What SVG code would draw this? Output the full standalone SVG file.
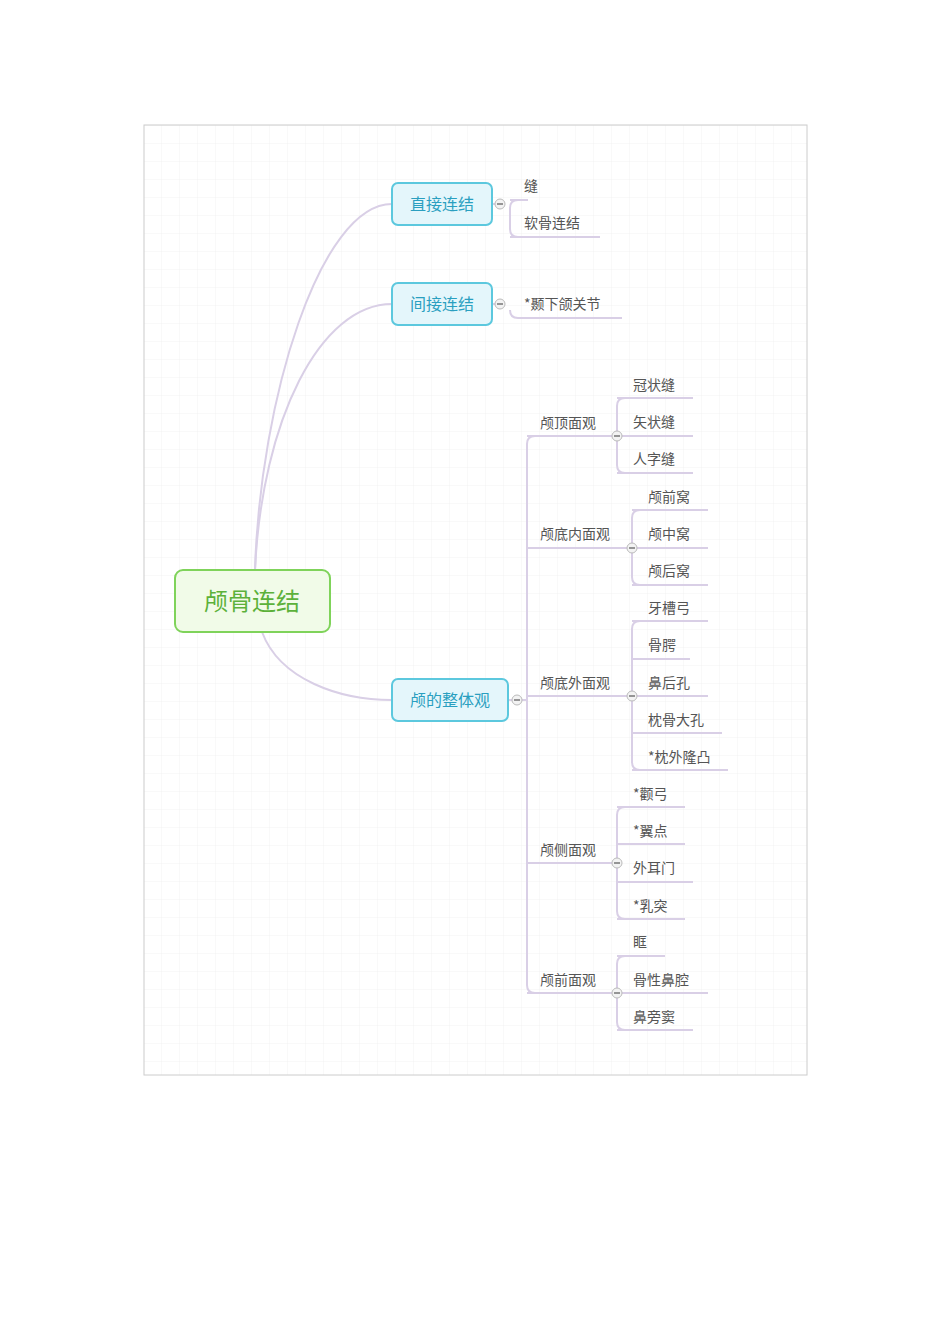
<svg xmlns="http://www.w3.org/2000/svg" width="950" height="1344" viewBox="0 0 950 1344">
<style>
.t{font-family:"Noto Sans CJK SC","Liberation Sans",sans-serif;font-size:14px;fill:#555}
.b{font-family:"Noto Sans CJK SC","Liberation Sans",sans-serif;font-size:16px;fill:#2a9fc0}
.l{fill:none;stroke:#d9cfe6;stroke-width:2}
.box{fill:#e4f6fb;stroke:#5cc8de;stroke-width:2}
.dot{fill:#f3f3f3;stroke:#bbb;stroke-width:1}
</style>
<defs>
<pattern id="g" width="18" height="18" patternUnits="userSpaceOnUse"><path d="M18 0V18H0" fill="none" stroke="#f2f2f2" stroke-width="1"/></pattern>
</defs>
<rect width="950" height="1344" fill="#fff"/>
<rect x="144" y="125" width="663" height="950" fill="url(#g)" stroke="#ccc"/>
<g id="connectors">
<path class="l" d="M255 570 C260 400 320 204 392 204"/>
<path class="l" d="M255 570 C262 420 320 304 392 304"/>
<path class="l" d="M262 632 C280 680 340 700 392 700"/>
<path class="l" d="M492 204 H500 M510 200 H528 M510 237 H600 M518 200 Q510 200 510 208 V229 Q510 237 518 237"/>
<path class="l" d="M492 304 H500 M510 310 Q510 318 518 318 H622"/>
<path class="l" d="M508 700 H517 M517 700 H527 M535 436 Q527 436 527 444 V985 Q527 993 535 993 M527 436 H617 M527 548 H632 M527 696 H632 M527 863 H617 M527 993 H617"/>
<path class="l" d="M625 398 Q617 398 617 406 V465 Q617 473 625 473 M617 398 H693 M617 436 H693 M617 473 H693"/>
<path class="l" d="M640 510 Q632 510 632 518 V577 Q632 585 640 585 M632 510 H708 M632 548 H708 M632 585 H708"/>
<path class="l" d="M640 621 Q632 621 632 629 V762 Q632 770 640 770 M632 621 H708 M632 659 H690 M632 696 H708 M632 733 H722 M632 770 H728"/>
<path class="l" d="M625 807 Q617 807 617 815 V911 Q617 919 625 919 M617 807 H685 M617 844 H685 M617 882 H693 M617 919 H685"/>
<path class="l" d="M625 956 Q617 956 617 964 V1022 Q617 1030 625 1030 M617 956 H665 M617 993 H708 M617 1030 H693"/>
</g>
<g id="root"><rect x="175" y="570" width="155" height="62" rx="8" fill="#f1fbe8" stroke="#7fd35a" stroke-width="2"/><text x="252" y="610" text-anchor="middle" font-family="Noto Sans CJK SC,sans-serif" font-size="24" fill="#5cb13a">颅骨连结</text></g>
<g id="n1"><rect class="box" x="392" y="183" width="100" height="42" rx="6"/><text class="b" x="442" y="210" text-anchor="middle">直接连结</text></g>
<g id="n2"><rect class="box" x="392" y="283" width="100" height="42" rx="6"/><text class="b" x="442" y="310" text-anchor="middle">间接连结</text></g>
<g id="n3"><rect class="box" x="392" y="679" width="116" height="42" rx="6"/><text class="b" x="450" y="706" text-anchor="middle">颅的整体观</text></g>
<g id="dots">
<circle class="dot" cx="500" cy="204" r="5"/><circle class="dot" cx="500" cy="304" r="5"/><circle class="dot" cx="517" cy="700" r="5"/>
<circle class="dot" cx="617" cy="436" r="5"/><circle class="dot" cx="632" cy="548" r="5"/><circle class="dot" cx="632" cy="696" r="5"/><circle class="dot" cx="617" cy="863" r="5"/><circle class="dot" cx="617" cy="993" r="5"/>
<path d="M497 204H503M497 304H503M514 700H520M614 436H620M629 548H635M629 696H635M614 863H620M614 993H620" stroke="#777" stroke-width="1.5"/>
</g>
<g id="labels">
<text class="t" x="524" y="191">缝</text><text class="t" x="524" y="228">软骨连结</text>
<text class="t" x="524" y="309">*颞下颌关节</text>
<text class="t" x="540" y="428">颅顶面观</text><text class="t" x="540" y="539">颅底内面观</text><text class="t" x="540" y="688">颅底外面观</text><text class="t" x="540" y="855">颅侧面观</text><text class="t" x="540" y="985">颅前面观</text>
<text class="t" x="633" y="390">冠状缝</text><text class="t" x="633" y="427">矢状缝</text><text class="t" x="633" y="464">人字缝</text>
<text class="t" x="648" y="502">颅前窝</text><text class="t" x="648" y="539">颅中窝</text><text class="t" x="648" y="576">颅后窝</text>
<text class="t" x="648" y="613">牙槽弓</text><text class="t" x="648" y="650">骨腭</text><text class="t" x="648" y="688">鼻后孔</text><text class="t" x="648" y="725">枕骨大孔</text><text class="t" x="648" y="762">*枕外隆凸</text>
<text class="t" x="633" y="799">*颧弓</text><text class="t" x="633" y="836">*翼点</text><text class="t" x="633" y="873">外耳门</text><text class="t" x="633" y="911">*乳突</text>
<text class="t" x="633" y="947">眶</text><text class="t" x="633" y="985">骨性鼻腔</text><text class="t" x="633" y="1022">鼻旁窦</text>
</g>
</svg>
